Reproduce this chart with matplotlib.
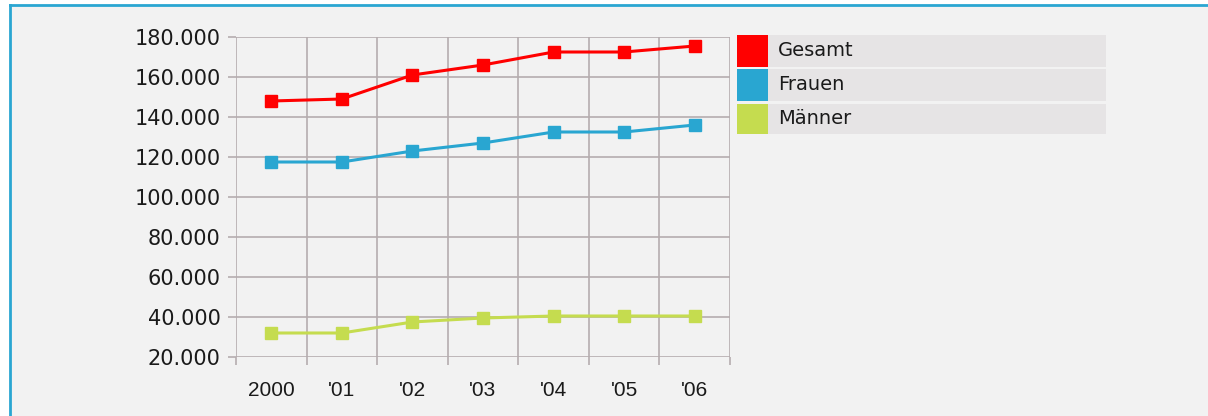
import matplotlib.pyplot as plt
import matplotlib.patches as mpatches
from matplotlib.lines import Line2D

# Data
years = ["2000", "'01", "'02", "'03", "'04", "'05", "'06"]
gesamt = [148000, 149000, 161000, 166000, 172500, 172500, 175500]
frauen = [117500, 117500, 123000, 127000, 132500, 132500, 136000]
maenner = [32000, 32000, 37500, 39500, 40500, 40500, 40500]
y_ticks = [20000, 40000, 60000, 80000, 100000, 120000, 140000, 160000, 180000]
y_tick_labels = ["20.000", "40.000", "60.000", "80.000", "100.000",
                 "120.000", "140.000", "160.000", "180.000"]
series_names = ["Gesamt", "Frauen", "Männer"]
series_colors = ["#ff0000", "#29a6d1", "#c5dc4f"]

bg = "#f2f2f2"
grid_col = "#b5adaf"

W, H = 1208, 416
fig = plt.figure(figsize=(W / 100, H / 100), dpi=100)
fig.patch.set_facecolor("white")

# panel background and blue frame (top + left)
fig.add_artist(mpatches.Rectangle((10 / W, 0), 1 - 10 / W, 1 - 5 / H,
                                  transform=fig.transFigure, facecolor=bg,
                                  edgecolor="none", zorder=0))
fig.add_artist(Line2D([10 / W, 1], [1 - 5 / H, 1 - 5 / H], transform=fig.transFigure,
                      color="#2aa6d2", lw=2))
fig.add_artist(Line2D([10 / W, 10 / W], [0, 1 - 5 / H], transform=fig.transFigure,
                      color="#2aa6d2", lw=2))

ax = fig.add_axes([236 / W, 1 - 357 / H, (730 - 236) / W, (357 - 37) / H])
ax.set_facecolor(bg)

x = list(range(len(years)))
for vals, col in zip([gesamt, frauen, maenner], series_colors):
    ax.plot(x, vals, color=col, lw=2.2, marker="s", markersize=8,
            markeredgecolor=col, zorder=3, clip_on=False)

ax.set_xlim(-0.5, len(years) - 0.5)
ax.set_ylim(20000, 180000)
ax.set_yticks(y_ticks)
ax.set_yticklabels(y_tick_labels, fontsize=15, family="DejaVu Sans")
ax.set_xticks(x)
ax.set_xticklabels(years, fontsize=15, family="Liberation Sans")
ax.set_xticks([i - 0.5 for i in range(len(years) + 1)], minor=True)

ax.tick_params(axis="x", which="major", length=0, pad=17, colors="#1a1a1a")
ax.tick_params(axis="x", which="minor", length=6, width=1.2, color=grid_col)
ax.tick_params(axis="y", which="major", length=6, width=1.2, color=grid_col,
               pad=5, labelcolor="#1a1a1a")

ax.grid(True, axis="y", which="major", color=grid_col, lw=1.2, zorder=1)
ax.grid(True, axis="x", which="minor", color=grid_col, lw=1.2, zorder=1)
ax.grid(False, axis="x", which="major")
for s in ax.spines.values():
    s.set_visible(False)

# custom legend on the right
rows = [(35, 67), (69, 101), (104, 134)]
for (top, bot), name, col in zip(rows, series_names, series_colors):
    fy = 1 - bot / H
    fh = (bot - top) / H
    fig.add_artist(mpatches.Rectangle((737 / W, fy), (1106 - 737) / W, fh,
                                      transform=fig.transFigure, facecolor="#e6e4e5",
                                      edgecolor="none"))
    fig.add_artist(mpatches.Rectangle((737 / W, fy), (768 - 737) / W, fh,
                                      transform=fig.transFigure, facecolor=col,
                                      edgecolor="none"))
    fig.text(778 / W, fy + fh / 2, name, fontsize=14, va="center", ha="left",
             color="#1a1a1a", family="DejaVu Sans")

plt.savefig("out.png", dpi=100)
